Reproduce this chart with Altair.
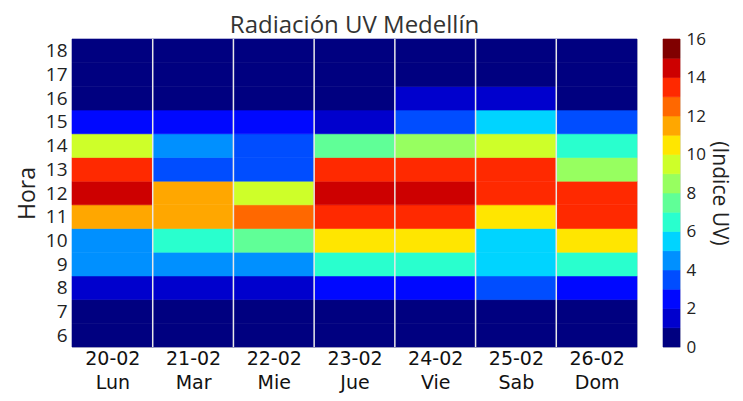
import altair as alt
import pandas as pd

days = ["20-02", "21-02", "22-02", "23-02", "24-02", "25-02", "26-02"]
weekdays = ["Lun", "Mar", "Mie", "Jue", "Vie", "Sab", "Dom"]
hours = [6, 7, 8, 9, 10, 11, 12, 13, 14, 15, 16, 17, 18]

# UV index per day, hours 6..18
uv_lun = [0.2, 0.4, 1.5, 4.4, 4.6, 11.5, 14.3, 13.4, 9.5, 2.3, 0.3, 0.1, 0.0]
uv_mar = [0.1, 0.3, 1.4, 4.5, 6.5, 11.4, 11.6, 3.5, 4.5, 2.4, 0.4, 0.1, 0.0]
uv_mie = [0.1, 0.3, 1.3, 4.3, 7.4, 12.5, 9.6, 3.6, 3.4, 2.2, 0.5, 0.1, 0.0]
uv_jue = [0.2, 0.5, 2.4, 6.5, 10.5, 13.5, 14.4, 13.6, 7.5, 1.6, 0.5, 0.1, 0.0]
uv_vie = [0.2, 0.6, 2.5, 6.4, 10.6, 13.4, 14.5, 13.5, 8.5, 3.5, 1.3, 0.2, 0.0]
uv_sab = [0.2, 0.7, 3.4, 5.5, 5.6, 10.5, 13.6, 13.5, 9.4, 5.5, 1.2, 0.3, 0.0]
uv_dom = [0.1, 0.5, 2.6, 6.6, 10.4, 13.3, 13.6, 8.5, 6.4, 3.6, 0.6, 0.1, 0.0]
series = [uv_lun, uv_mar, uv_mie, uv_jue, uv_vie, uv_sab, uv_dom]

levels = list(range(16))
thresholds = list(range(1, 16))
jet16 = ["#000080", "#0000cd", "#0008ff", "#004dff", "#0090ff", "#00d4ff",
         "#29ffce", "#60ff97", "#97ff60", "#ceff29", "#ffe600", "#ffa700",
         "#ff6800", "#ff2900", "#cd0000", "#800000"]
cb_ticks = [0, 2, 4, 6, 8, 10, 12, 14, 16]

rows = []
for i, (d, w, vals) in enumerate(zip(days, weekdays, series)):
    for h, v in zip(hours, vals):
        rows.append({"di": i, "di2": i + 1, "h0": h - 0.5, "h1": h + 0.5, "uv": v})
df = pd.DataFrame(rows)

bounds = pd.DataFrame({"b": list(range(1, len(days)))})
cb = pd.DataFrame({"lo": levels, "hi": [l + 1 for l in levels]})

color_scale = alt.Scale(type="threshold", domain=thresholds, range=jet16)
xscale = alt.Scale(domain=[0, len(days)], nice=False, zero=False)
yscale = alt.Scale(domain=[hours[0] - 0.5, hours[-1] + 0.5], nice=False, zero=False)

label_days = "[" + ",".join(f"'{d}'" for d in days) + "]"
label_wd = "[" + ",".join(f"'{w}'" for w in weekdays) + "]"

heat = alt.Chart(df).mark_rect(strokeWidth=0.6).encode(
    x=alt.X("di:Q", scale=xscale,
            axis=alt.Axis(values=[i + 0.5 for i in range(len(days))],
                          labelExpr=f"[{label_days}[floor(datum.value)], {label_wd}[floor(datum.value)]]",
                          title=None, grid=False, domain=False, ticks=False,
                          labelFont="DejaVu Sans", labelFontSize=19, labelColor="#111",
                          labelPadding=2, labelLineHeight=24)),
    x2="di2:Q",
    y=alt.Y("h0:Q", scale=yscale,
            axis=alt.Axis(values=hours, title="Hora", grid=False, domain=False,
                          ticks=False, labelFont="Open Sans", labelFontSize=19,
                          labelColor="#222", labelPadding=5, labelOverlap=False,
                          titleFont="Open Sans", titleFontSize=23,
                          titleFontWeight="normal", titleColor="#222", titlePadding=6)),
    y2="h1:Q",
    color=alt.Color("uv:Q", scale=color_scale, legend=None),
    stroke=alt.Stroke("uv:Q", scale=color_scale, legend=None),
)

grid = alt.Chart(bounds).mark_rule(color="#e8e8e8", strokeWidth=1.5).encode(
    x=alt.X("b:Q", scale=xscale)
)

main = alt.layer(heat, grid).properties(
    width=565, height=308,
    title=alt.TitleParams("Radiación UV Medellín", font="Open Sans", fontSize=24,
                          fontWeight="normal", color="#333", offset=0),
)

colorbar = alt.Chart(cb).mark_rect(strokeWidth=0.6).encode(
    y=alt.Y("lo:Q", scale=alt.Scale(domain=[0, 16], nice=False),
            axis=alt.Axis(orient="right", values=cb_ticks, title="(Indice UV)",
                          grid=False, domain=False, ticks=False,
                          labelFont="Open Sans", labelFontSize=17, labelColor="#222",
                          labelPadding=6, titleFont="Open Sans", titleFontSize=21,
                          titleFontWeight="normal", titleColor="#222", titlePadding=3)),
    y2="hi:Q",
    color=alt.Color("lo:Q", scale=color_scale, legend=None),
    stroke=alt.Stroke("lo:Q", scale=color_scale, legend=None),
).properties(width=17, height=308)

chart = alt.hconcat(main, colorbar, spacing=24).properties(
    padding={"left": 7, "top": 5, "right": 4, "bottom": 3}
).configure_view(
    stroke="#c8c8c8", strokeWidth=1
).configure(background="white")

chart.save("out.html", embed_options={"renderer": "svg", "actions": False})
